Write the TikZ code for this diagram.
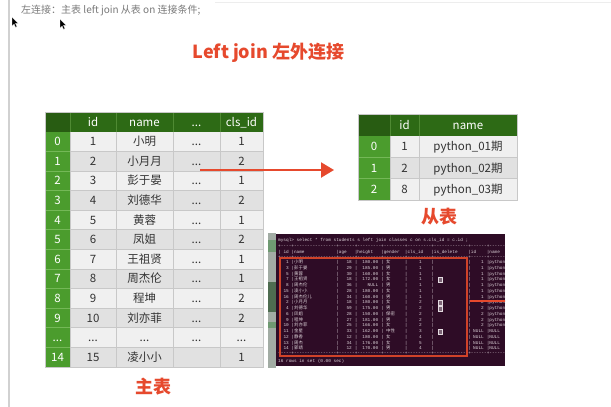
\documentclass[tikz,border=0pt]{standalone}
\usepackage{fontspec}
\setmainfont{Noto Sans CJK SC}
\setmonofont{Liberation Mono}
\usetikzlibrary{arrows.meta}
\definecolor{hdrg}{HTML}{2D6A15}
\definecolor{hdri}{HTML}{285C12}
\definecolor{hdrl}{HTML}{4F8A33}
\definecolor{idxg}{HTML}{4B9C2D}
\definecolor{idxl}{HTML}{74B857}
\definecolor{redc}{HTML}{E6492D}
\definecolor{rowa}{HTML}{F0F0F0}
\definecolor{rowb}{HTML}{E1E1E1}
\definecolor{gridc}{HTML}{C8C8C8}
\definecolor{txt}{HTML}{333333}
\definecolor{termbg}{HTML}{2E0C26}
\definecolor{termtx}{HTML}{DCD2D8}
\definecolor{toptx}{HTML}{7A7A7A}
\definecolor{stripc}{HTML}{A2ACA4}
\definecolor{stripg}{HTML}{6F9A72}
\newcommand\tdots{...}
\newcommand\qqi{{\rmfamily 期}}
\tikzset{
  cell/.style={inner sep=0pt, text height=9.8pt, text depth=1.4pt, font=\fontsize{11.5}{13}\selectfont, anchor=center},
  tt/.style={inner sep=0pt, text height=3.2pt, text depth=0.9pt, font=\ttfamily\fontsize{4.4}{5}\selectfont, text=termtx, anchor=west},
  tcjk/.style={inner sep=0pt, text height=3.2pt, text depth=0.9pt, font=\rmfamily\fontsize{4.4}{5}\selectfont, text=termtx, anchor=west},
  redlbl/.style={inner sep=0pt, font=\bfseries\fontsize{18}{20}\selectfont, text=redc},
}
\begin{document}
\begin{tikzpicture}[x=1pt,y=-1pt]
\fill[white] (0,0) rectangle (611,407);
\useasboundingbox (0,0) rectangle (611,407);
% page edge lines
\draw[black!18, line width=1.2pt] (9,0) -- (9,407);
\draw[black!7, line width=0.8pt] (215,2) -- (611,2);
% top note
\node[anchor=west, inner sep=0pt, font=\fontsize{10}{12}\selectfont, text=toptx] (note) at (21,10) {左连接：主表 left join 从表 on 连接条件;};
% cursors
\foreach \cx/\cy [count=\n] in {12/17, 60/19}{
  \filldraw[fill=black, draw=white, line width=0.3pt] (\cx,\cy) -- ++(0,9) -- ++(2,-2) -- ++(1.6,3.4) -- ++(1.4,-0.7) -- ++(-1.6,-3.3) -- ++(2.8,0) -- cycle;
}
% title
\node[redlbl] (title) at (268.5,53) {Left join 左外连接};

% ---------- main table ----------
\fill[hdrg] (45,112) rectangle (263,131.6);
\fill[hdri] (45,112) rectangle (70,131.6);
\fill[idxg] (45,131.6) rectangle (70,367);
\foreach \i in {1,...,12}{
  \pgfmathsetmacro\yt{112+\i*19.6}
  \pgfmathtruncatemacro\odd{mod(\i,2)}
  \ifnum\odd=1
    \fill[rowa] (70,\yt) rectangle (263,\yt+19.6);
  \else
    \fill[rowb] (70,\yt) rectangle (263,\yt+19.6);
  \fi
}
\foreach \i in {2,...,12}{
  \pgfmathsetmacro\yl{112+\i*19.6}
  \draw[gridc, line width=0.6pt] (70,\yl) -- (263,\yl);
  \draw[idxl, line width=0.6pt] (45,\yl) -- (70,\yl);
}
\foreach \xv in {116,173,220}{
  \draw[gridc, line width=0.6pt] (\xv,131.6) -- (\xv,367);
  \draw[hdrl, line width=0.6pt] (\xv,112) -- (\xv,131.6);
}
\draw[hdrl, line width=0.6pt] (70,112) -- (70,131.6);
\draw[gridc, line width=0.6pt] (70,131.6) -- (70,367);
\draw[gridc, line width=0.7pt] (45,112) rectangle (263,367);
\foreach [count=\r from 0] \a/\b/\c/\d/\e in {
  {}/id/name/\tdots/cls\_id,
  0/1/小明/\tdots/1,
  1/2/小月月/\tdots/2,
  2/3/彭于晏/\tdots/1,
  3/4/刘德华/\tdots/2,
  4/5/黄蓉/\tdots/1,
  5/6/凤姐/\tdots/2,
  6/7/王祖贤/\tdots/1,
  7/8/周杰伦/\tdots/1,
  8/9/程坤/\tdots/2,
  9/10/刘亦菲/\tdots/2,
  \tdots/\tdots/\tdots/\tdots/\tdots,
  14/15/凌小小/{}/1}{
  \pgfmathsetmacro\yc{112+(\r+0.5)*19.6}
  \ifnum\r=0 \def\tc{white}\else\def\tc{txt}\fi
  \node[cell, text=white] (m\r-0) at (57.5,\yc) {\a};
  \node[cell, text=\tc] (m\r-1) at (93,\yc) {\b};
  \node[cell, text=\tc] (m\r-2) at (144.5,\yc) {\c};
  \node[cell, text=\tc] (m\r-3) at (196.5,\yc) {\d};
  \node[cell, text=\tc] (m\r-4) at (241.5,\yc) {\e};
}
\node[redlbl] (mainlbl) at (153,387) {主表};

% ---------- slave table ----------
\fill[hdrg] (358,114) rectangle (517,136);
\fill[hdri] (358,114) rectangle (390,136);
\fill[idxg] (358,136) rectangle (390,200);
\fill[rowa] (390,136) rectangle (517,157.33);
\fill[rowb] (390,157.33) rectangle (517,178.67);
\fill[rowa] (390,178.67) rectangle (517,200);
\foreach \yl in {157.33,178.67}{
  \draw[gridc, line width=0.6pt] (390,\yl) -- (517,\yl);
  \draw[idxl, line width=0.6pt] (358,\yl) -- (390,\yl);
}
\draw[hdrl, line width=0.6pt] (390,114) -- (390,136);
\draw[hdrl, line width=0.6pt] (419,114) -- (419,136);
\draw[gridc, line width=0.6pt] (390,136) -- (390,200);
\draw[gridc, line width=0.6pt] (419,136) -- (419,200);
\draw[gridc, line width=0.7pt] (358,114) rectangle (517,200);
\node[cell, text=white] (s0-1) at (404.5,125) {id};
\node[cell, text=white] (s0-2) at (468,125) {name};
\foreach [count=\r] \a/\b/\c in {0/1/python\_01期, 1/2/python\_02期, 2/8/python\_03期}{
  \pgfmathsetmacro\yc{136+(\r-0.5)*21.33}
  \node[cell, text=white] (s\r-0) at (374,\yc) {\a};
  \node[cell, text=txt] (s\r-1) at (404.5,\yc) {\b};
  \node[cell, text=txt] (s\r-2) at (468,\yc) {\c};
}
\node[redlbl] (sublbl) at (439.5,217) {从表};

% ---------- arrow ----------
\coordinate (aS) at (200,170);
\coordinate (aE) at (334,170);
\draw[redc, line width=2.2pt, -{Triangle[length=13pt,width=15pt]}] (aS) -- (aE);

% ---------- terminal screenshot ----------
\begin{scope}
\clip (268,233) rectangle (505,368);
\fill[stripc] (268,233) rectangle (276,368);
\fill[stripg] (268,240) rectangle (276,252);
\fill[stripg!70!black] (268,282) rectangle (276,312);
\fill[stripg] (268,322) rectangle (276,328);
\fill[termbg] (276,234) rectangle (505,366);
\node[tt] (q) at (278,240.5) {mysql> select * from students s left join classes c on s.cls\_id = c.id ;};
\foreach \yy [count=\n] in {246.8,257.8,353.6}{
  \node[tt] (sep\n) at (278,\yy) {+----+----------------+------+---------+--------+---------+-------------+------+--------------};
}
% pipes
\foreach \i in {0,...,16}{
  \pgfmathsetmacro\py{\i==0 ? 252.5 : 262.5+5.75*(\i-1)}
  \foreach \px [count=\j] in {278,291.2,336.1,354.6,381,404.7,431.1,468.1,486.6}{
    \node[tt] (pp\i-\j) at (\px,\py) {|};
  }
}
% header
\node[tt] (h1) at (283.3,252.5) {id};
\node[tt] (h2) at (293.8,252.5) {name};
\node[tt] (h3) at (338.7,252.5) {age};
\node[tt] (h4) at (357.2,252.5) {height};
\node[tt] (h5) at (383.6,252.5) {gender};
\node[tt] (h6) at (407.3,252.5) {cls\_id};
\node[tt] (h7) at (433.7,252.5) {is\_delete};
\node[tt] (h8) at (470.7,252.5) {id};
\node[tt] (h9) at (489.2,252.5) {name};
% rows
\foreach [count=\k from 0] \qa/\qb/\qc/\qd/\qe/\qf/\qg/\qh/\qi in {
  1/小明/18/180.00/女/1/0/1/python\_01\qqi,
  3/彭于晏/29/185.00/男/1/0/1/python\_01\qqi,
  5/黄蓉/30/160.00/女/1/0/1/python\_01\qqi,
  7/王祖贤/18/172.00/女/1/1/1/python\_01\qqi,
  8/周杰伦/36/NULL/男/1/0/1/python\_01\qqi,
  15/凌小小/28/180.00/女/1/0/1/python\_01\qqi,
  16/周杰伦儿/34/160.00/男/1/0/1/python\_01\qqi,
  2/小月月/18/180.00/女/2/1/2/python\_02\qqi,
  4/刘德华/59/175.00/男/2/1/2/python\_02\qqi,
  6/凤姐/28/150.00/保密/2/0/2/python\_02\qqi,
  9/程坤/27/181.00/男/2/0/2/python\_02\qqi,
  10/刘亦菲/25/166.00/女/2/0/2/python\_02\qqi,
  11/金星/33/162.00/中性/3/1/NULL/NULL,
  12/静香/12/180.00/女/4/0/NULL/NULL,
  13/周杰/34/176.00/女/5/0/NULL/NULL,
  14/郭靖/12/170.00/男/4/0/NULL/NULL}{
  \pgfmathsetmacro\py{262.5+5.75*\k}
  \node[tt, anchor=east] (t\k-1) at (289,\py) {\qa};
  \node[tcjk] (t\k-2) at (294,\py) {\qb};
  \node[tt, anchor=east] (t\k-3) at (352,\py) {\qc};
  \node[tt, anchor=east] (t\k-4) at (378.4,\py) {\qd};
  \node[tcjk] (t\k-5) at (386,\py) {\qe};
  \node[tt, anchor=east] (t\k-6) at (422,\py) {\qf};
  \ifnum\qg=1
    \filldraw[fill=termtx!45!termbg, draw=termtx!80, line width=0.4pt] (438,\py-2.3) rectangle (442.5,\py+2.3);
  \fi
  \node[tt, anchor=east] (t\k-8) at (484,\py) {\qh};
  \node[tt] (t\k-9) at (489.2,\py) {\qi};
}
\node[tt] (foot) at (278,361) {16 rows in set (0.00 sec)};
% highlight
\draw[redc!90!black, line width=1.2pt] (280,258) rectangle (467,356);
\coordinate (tS) at (470,301);
\coordinate (tE) at (506,301);
\draw[redc, line width=1.2pt] (tS) -- (tE);
\end{scope}
\end{tikzpicture}
\end{document}
